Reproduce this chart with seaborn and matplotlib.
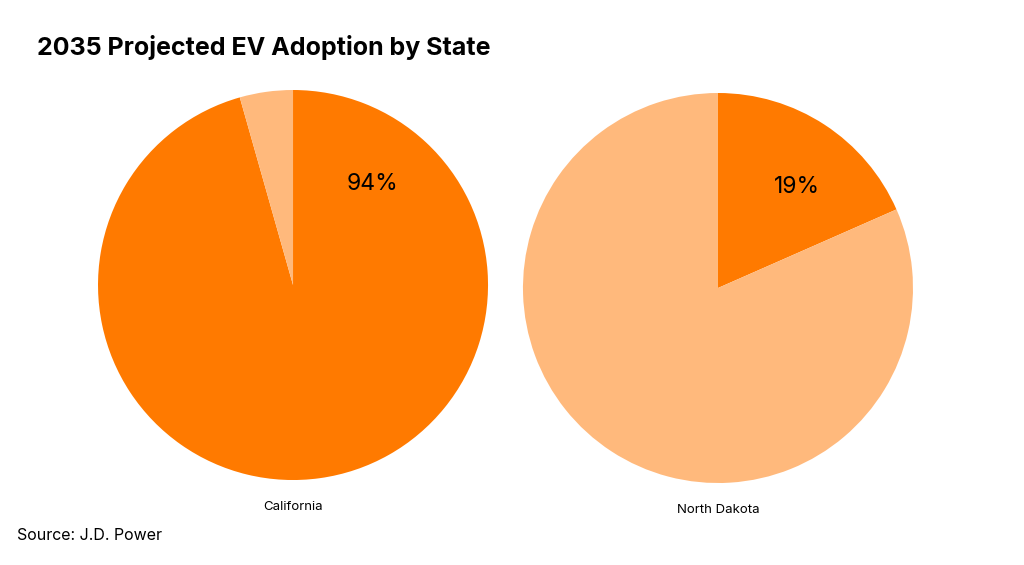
import matplotlib
matplotlib.use("Agg")
import matplotlib.pyplot as plt
import seaborn as sns
import numpy as np

# data
states = ["California", "North Dakota"]
ev_label = [94, 19]          # printed labels
ev_slice = [95.6, 18.4]      # slice sizes as drawn in the picture
title = "2035 Projected EV Adoption by State"
source = "Source: J.D. Power"

ev_color = "#FF7A00"
rest_color = "#FFB97C"

sns.set_theme(style="white")
plt.rcParams["font.family"] = ["Inter", "DejaVu Sans"]

fig = plt.figure(figsize=(10.24, 5.65), dpi=100)

# axes boxes (fig fraction) for each pie
boxes = [
    [0.0957, 0.1504, 0.3809, 0.6903],
    [0.5107, 0.1451, 0.3809, 0.6903],
]

for state, label, share, box in zip(states, ev_label, ev_slice, boxes):
    ax = fig.add_axes(box)
    ax.pie([share, 100 - share], colors=[ev_color, rest_color],
           startangle=90, counterclock=False, radius=1,
           wedgeprops=dict(linewidth=0))
    ax.set_xlim(-1, 1)
    ax.set_ylim(-1, 1)
    ax.set_aspect("equal")
    ax.axis("off")
    ang = np.deg2rad(52)
    ax.text(0.66 * np.cos(ang), 0.66 * np.sin(ang), f"{label}%",
            ha="center", va="center", fontsize=16.5, color="black")
    ax.text(0, -1.14, state, ha="center", va="center", fontsize=9.5,
            color="black")

fig.text(37 / 1024, 1 - 47 / 565, title, ha="left", va="center",
         fontsize=18, fontweight="bold", color="black")
fig.text(17 / 1024, 1 - 536 / 565, source, ha="left", va="center",
         fontsize=11.5, color="black")

fig.savefig("out.png", dpi=100, facecolor="white")
